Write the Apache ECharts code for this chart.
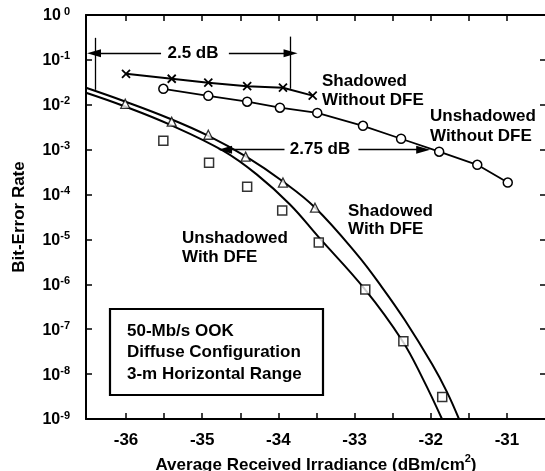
<!DOCTYPE html>
<html><head><meta charset="utf-8">
<script src="https://cdn.jsdelivr.net/npm/echarts@6/dist/echarts.min.js"></script>
<style>html,body{margin:0;padding:0;background:#fff}#c{width:545px;height:471px}</style>
</head><body><div id="c"></div>
<script>
// ---- tick values ----
const xTickValues = [-36, -35.5, -35, -34.5, -34, -33.5, -33, -32.5, -32, -31.5, -31];
const xLabelValues = [-36, -35, -34, -33, -32, -31];
const yTickValues = [1e-9, 1e-8, 1e-7, 1e-6, 1e-5, 1e-4, 1e-3, 1e-2, 1e-1, 1];

// ---- Shadowed Without DFE (x markers) ----
const shadowedNoDfeX = [-36.0, -35.4, -34.92, -34.41, -33.94, -33.55];
const shadowedNoDfeY = [4.9e-2, 3.8e-2, 3.1e-2, 2.6e-2, 2.4e-2, 1.6e-2];

// ---- Unshadowed Without DFE (circles) ----
const unshadowedNoDfeX = [-35.51, -34.92, -34.41, -33.98, -33.49, -32.89, -32.39, -31.89, -31.39, -30.99];
const unshadowedNoDfeY = [2.27e-2, 1.58e-2, 1.17e-2, 8.6e-3, 6.6e-3, 3.4e-3, 1.75e-3, 9.0e-4, 4.6e-4, 1.85e-4];

// ---- Shadowed With DFE (triangles, measured) ----
const shadowedDfeX = [-36.01, -35.40, -34.92, -34.43, -33.94, -33.52];
const shadowedDfeY = [1.05e-2, 4.2e-3, 2.15e-3, 7.0e-4, 1.85e-4, 5.1e-5];

// ---- Unshadowed With DFE (squares, measured) ----
const unshadowedDfeX = [-35.51, -34.91, -34.41, -33.95, -33.47, -32.86, -32.36, -31.85];
const unshadowedDfeY = [1.58e-3, 5.1e-4, 1.5e-4, 4.4e-5, 8.6e-6, 7.7e-7, 5.4e-8, 3.1e-9];

// ---- Shadowed With DFE (theory curve) ----
const shadowedCurveX = [-36.525, -36.039, -35.423, -34.924, -34.412, -33.94, -33.52, -32.969, -32.64, -32.339, -31.984, -31.787, -31.63];
const shadowedCurveY = [2.39e-2, 1.227e-2, 4.89e-3, 2.05e-3, 6.81e-4, 1.95e-4, 5.14e-5, 4.64e-6, 8.58e-7, 1.58e-7, 1.67e-8, 3.98e-9, 1e-9];

// ---- Unshadowed With DFE (theory curve) ----
const unshadowedCurveX = [-36.525, -36.039, -35.423, -34.727, -34.281, -33.848, -33.48, -32.864, -32.378, -32.102, -31.853];
const unshadowedCurveY = [1.85e-2, 9.5e-3, 3.6e-3, 9.5e-4, 2.78e-4, 6.0e-5, 1.17e-5, 7.74e-7, 5.7e-8, 7.74e-9, 1e-9];

// ---- annotation segments (data coordinates) ----
const dimLines = [
  [[-36.405, 0.31], [-36.405, 0.0215]],
  [[-33.85, 0.33], [-33.85, 0.0227]]
];
const arrows2p5 = [
  [[-35.54, 0.141], [-36.42, 0.141]],
  [[-34.65, 0.141], [-33.84, 0.141]]
];
const arrows2p75 = [
  [[-33.92, 1.0e-3], [-34.70, 1.0e-3]],
  [[-32.95, 1.0e-3], [-32.10, 1.0e-3]]
];

const zip = (a, b) => a.map((v, i) => [v, b[i]]);
const FONT = '"Liberation Sans", Arial, sans-serif';
const TXT = 'bold 17px ' + FONT;

const chart = echarts.init(document.getElementById('c'), null, { renderer: 'canvas' });

const mlData = [];
dimLines.forEach(s => mlData.push([{ coord: s[0], symbol: 'none' }, { coord: s[1], symbol: 'none' }]));
arrows2p5.concat(arrows2p75).forEach(s => mlData.push([
  { coord: s[0], symbol: 'none' },
  { coord: s[1], symbol: 'triangle', symbolSize: [8, 14] }
]));

function label(x, y, text, align) {
  return { type: 'text', x: x, y: y, z: 11, style: { text: text, font: TXT, fill: '#000', align: align || 'left', verticalAlign: 'middle' } };
}

const option = {
  animation: false,
  backgroundColor: '#fff',
  grid: { left: 86, right: -1, top: 15, bottom: 52, outerBoundsMode: 'none', containLabel: false },
  xAxis: [{
    type: 'value', min: -36.525, max: -30.488, position: 'bottom',
    axisLine: { show: true, lineStyle: { color: '#000', width: 2 } },
    axisTick: { show: true, inside: true, length: 6, lineStyle: { color: '#000', width: 1.5 }, customValues: xTickValues },
    axisLabel: { customValues: xLabelValues, margin: 13, color: '#000', fontSize: 17, fontWeight: 'bold', fontFamily: FONT,
      formatter: v => String(Math.round(v)) },
    splitLine: { show: false },
    name: '{a|Average Received Irradiance (dBm/cm}{s|2}{a|)}',
    nameLocation: 'middle', nameGap: 28,
    nameTextStyle: { rich: {
      a: { fontSize: 17, fontWeight: 'bold', fontFamily: FONT, color: '#000', lineHeight: 20, verticalAlign: 'bottom' },
      s: { fontSize: 11, fontWeight: 'bold', fontFamily: FONT, color: '#000', lineHeight: 11, verticalAlign: 'top' } } }
  }, {
    type: 'value', min: -36.525, max: -30.488, position: 'top',
    axisLine: { show: true, lineStyle: { color: '#000', width: 2 } },
    axisTick: { show: true, inside: true, length: 6, lineStyle: { color: '#000', width: 1.5 }, customValues: xTickValues },
    axisLabel: { show: false },
    splitLine: { show: false }
  }],
  yAxis: [{
    type: 'log', min: 1e-9, max: 1, logBase: 10, position: 'left',
    axisLine: { show: true, lineStyle: { color: '#000', width: 2 } },
    axisTick: { show: true, inside: true, length: 6, lineStyle: { color: '#000', width: 1.5 }, customValues: yTickValues },
    axisLabel: { customValues: yTickValues, margin: 16,
      formatter: v => { const e = Math.round(Math.log10(v)); return '{b|10}{s|' + (e === 0 ? ' 0' : e) + '}'; },
      rich: {
        b: { fontSize: 16, fontWeight: 'bold', fontFamily: FONT, color: '#000', lineHeight: 18, verticalAlign: 'bottom' },
        s: { fontSize: 11, fontWeight: 'bold', fontFamily: FONT, color: '#000', lineHeight: 11, verticalAlign: 'top' } } },
    splitLine: { show: false },
    name: 'Bit-Error Rate', nameLocation: 'middle', nameGap: 58,
    nameTextStyle: { fontSize: 17, fontWeight: 'bold', fontFamily: FONT, color: '#000' }
  }, {
    type: 'log', min: 1e-9, max: 1, logBase: 10, position: 'right',
    axisLine: { show: false },
    axisTick: { show: true, inside: true, length: 6, lineStyle: { color: '#000', width: 1.5 }, customValues: yTickValues },
    axisLabel: { show: false },
    splitLine: { show: false }
  }],
  series: [
    { name: 'Shadowed With DFE (theory)', type: 'line', data: zip(shadowedCurveX, shadowedCurveY),
      showSymbol: false, smooth: 0.4, lineStyle: { color: '#000', width: 2 }, z: 2 },
    { name: 'Unshadowed With DFE (theory)', type: 'line', data: zip(unshadowedCurveX, unshadowedCurveY),
      showSymbol: false, smooth: 0.4, lineStyle: { color: '#000', width: 2 }, z: 2 },
    { name: 'Shadowed Without DFE', type: 'line', data: zip(shadowedNoDfeX, shadowedNoDfeY),
      symbol: 'path://M0,0L10,10M10,0L0,10', symbolSize: 8,
      itemStyle: { color: '#000', borderColor: '#000', borderWidth: 1.8 },
      lineStyle: { color: '#000', width: 2 }, z: 3,
      markLine: { silent: true, animation: false, label: { show: false }, symbol: ['none', 'none'],
        lineStyle: { color: '#000', width: 1.3, type: 'solid' }, emphasis: { disabled: true }, data: mlData } },
    { name: 'Unshadowed Without DFE', type: 'line', data: zip(unshadowedNoDfeX, unshadowedNoDfeY),
      symbol: 'circle', symbolSize: 9,
      itemStyle: { color: '#fff', borderColor: '#000', borderWidth: 1.5 },
      lineStyle: { color: '#000', width: 1.8 }, z: 3 },
    { name: 'Shadowed With DFE', type: 'scatter', data: zip(shadowedDfeX, shadowedDfeY),
      symbol: 'triangle', symbolSize: 9,
      itemStyle: { color: '#fff', borderColor: '#000', borderWidth: 1.3 }, z: 4 },
    { name: 'Unshadowed With DFE', type: 'scatter', data: zip(unshadowedDfeX, unshadowedDfeY),
      symbol: 'rect', symbolSize: 9,
      itemStyle: { color: '#fff', borderColor: '#000', borderWidth: 1.5 }, z: 4 }
  ],
  graphic: [
    label(193, 53, '2.5 dB', 'center'),
    label(320, 149, '2.75 dB', 'center'),
    label(322, 81, 'Shadowed'),
    label(322, 100, 'Without DFE'),
    label(430, 116, 'Unshadowed'),
    label(430, 136, 'Without DFE'),
    label(348, 211, 'Shadowed'),
    label(348, 229, 'With DFE'),
    label(182, 238, 'Unshadowed'),
    label(182, 257, 'With DFE'),
    { type: 'rect', shape: { x: 110, y: 309, width: 213, height: 86 }, style: { fill: '#fff', stroke: '#000', lineWidth: 2.2 }, z: 10 },
    label(127, 331, '50-Mb/s OOK'),
    label(127, 352, 'Diffuse Configuration'),
    label(127, 374, '3-m Horizontal Range')
  ]
};
chart.setOption(option);
</script>
</body></html>
